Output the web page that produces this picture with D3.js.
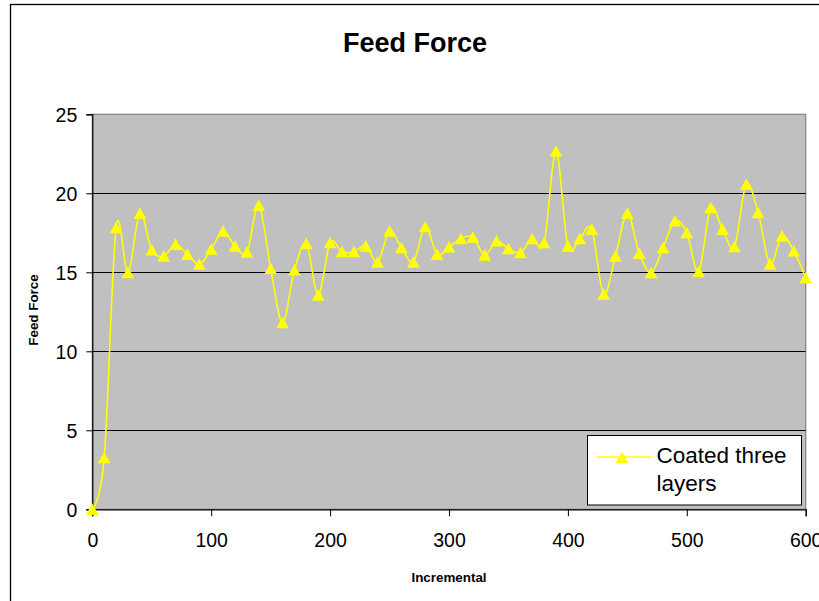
<!DOCTYPE html>
<html>
<head>
<meta charset="utf-8">
<script src="https://cdn.jsdelivr.net/npm/d3@7/dist/d3.min.js"></script>
<style>
  html, body { margin: 0; padding: 0; background: #fff; }
  svg { display: block; }
  text { font-family: "Liberation Sans", Arial, sans-serif; }
</style>
</head>
<body>
<svg id="chart" width="819" height="601"></svg>
<script>
const title = "Feed Force";
const xLabel = "Incremental";
const yLabel = "Feed Force";
const seriesName = ["Coated three", "layers"];
const xTicks = [0, 100, 200, 300, 400, 500, 600];
const yTicks = [0, 5, 10, 15, 20, 25];
const xValues = [0,10,20,30,40,50,60,70,80,90,100,110,120,130,140,150,160,170,180,190,200,
  210,220,230,240,250,260,270,280,290,300,310,320,330,340,350,360,370,380,390,400,
  410,420,430,440,450,460,470,480,490,500,510,520,530,540,550,560,570,580,590,600];
const feedForce = [0, 3.27, 17.82, 14.97, 18.73, 16.41, 16.03, 16.77, 16.14, 15.51, 16.46,
  17.61, 16.66, 16.28, 19.24, 15.25, 11.81, 15.15, 16.81, 13.56, 16.87,
  16.30, 16.30, 16.66, 15.65, 17.61, 16.56, 15.65, 17.89, 16.14, 16.60,
  17.13, 17.23, 16.09, 16.98, 16.49, 16.24, 17.13, 16.87, 22.66, 16.66,
  17.13, 17.72, 13.61, 16.03, 18.73, 16.20, 14.97, 16.56, 18.25, 17.51,
  15.04, 19.09, 17.72, 16.62, 20.57, 18.77, 15.51, 17.30, 16.35, 14.66];

(function () {
const svg = d3.select("#chart");
const pL = 92.3, pR = 805.7, pT = 114.3, pB = 509.3;

const x = d3.scaleLinear().domain([0, 600]).range([pL, pR]);
const y = d3.scaleLinear().domain([0, 25]).range([pB, pT]);

// outer chart border
svg.append("rect").attr("x", 10.5).attr("y", 4.5).attr("width", 900).attr("height", 700)
  .attr("fill", "#fff").attr("stroke", "#000").attr("stroke-width", 1.3);

// plot area
svg.append("rect").attr("x", pL).attr("y", pT).attr("width", pR - pL).attr("height", pB - pT)
  .attr("fill", "#c0c0c0").attr("stroke", "#808080").attr("stroke-width", 1.2);

// gridlines
svg.append("g").selectAll("line").data(yTicks.filter(d => d > 0 && d < 25)).join("line")
  .attr("x1", pL).attr("x2", pR)
  .attr("y1", d => Math.round(y(d)) + 0.5).attr("y2", d => Math.round(y(d)) + 0.5)
  .attr("stroke", "#000").attr("stroke-width", 1);

// axes
const yAxis = d3.axisLeft(y).tickValues(yTicks).tickSize(6).tickPadding(9).tickFormat(d3.format("d"));
const gy = svg.append("g").attr("transform", `translate(${pL},0)`).call(yAxis);
gy.select(".domain").attr("stroke", "#000").attr("stroke-width", 1.2);
gy.selectAll(".tick line").attr("stroke", "#000");
gy.selectAll(".tick text").attr("font-size", "19.5px").attr("fill", "#000")
  .attr("font-family", "Liberation Sans, Arial, sans-serif").attr("dy", "0.36em");

const xAxis = d3.axisBottom(x).tickValues(xTicks).tickSize(7).tickPadding(17).tickFormat(d3.format("d"));
const gx = svg.append("g").attr("transform", `translate(0,${pB})`).call(xAxis);
gx.select(".domain").attr("stroke", "#000").attr("stroke-width", 1.2);
gx.selectAll(".tick line").attr("stroke", "#000");
gx.selectAll(".tick text").attr("font-size", "19.5px").attr("fill", "#000")
  .attr("font-family", "Liberation Sans, Arial, sans-serif").attr("dy", "0.71em");

// line
const data = xValues.map((d, i) => [d, feedForce[i]]);
const line = d3.line().x(d => x(d[0])).y(d => y(d[1])).curve(d3.curveCatmullRom.alpha(0));
svg.append("path").datum(data).attr("d", line)
  .attr("fill", "none").attr("stroke", "#ffff00").attr("stroke-width", 1.6);

// markers
const tri = (cx, cy) => `M${cx},${cy - 6}L${cx + 6.3},${cy + 5.6}L${cx - 6.3},${cy + 5.6}Z`;
svg.append("g").selectAll("path").data(data).join("path")
  .attr("d", d => tri(x(d[0]), y(d[1])))
  .attr("fill", "#ffff00");

// title
svg.append("text").attr("x", 415).attr("y", 51.5).attr("text-anchor", "middle")
  .attr("font-size", "27px").attr("font-weight", "bold").text(title);

// axis labels
svg.append("text").attr("x", 449).attr("y", 581.5).attr("text-anchor", "middle")
  .attr("font-size", "13.4px").attr("font-weight", "bold").text(xLabel);
svg.append("text").attr("transform", "translate(37.5,310) rotate(-90)").attr("text-anchor", "middle")
  .attr("font-size", "13.4px").attr("font-weight", "bold").text(yLabel);

// legend
const lg = svg.append("g");
lg.append("rect").attr("x", 587.5).attr("y", 435.5).attr("width", 214).attr("height", 69.5)
  .attr("fill", "#fff").attr("stroke", "#000").attr("stroke-width", 1);
lg.append("line").attr("x1", 597).attr("x2", 651).attr("y1", 457).attr("y2", 457)
  .attr("stroke", "#ffff00").attr("stroke-width", 1.6);
lg.append("path").attr("d", tri(622, 457.5)).attr("fill", "#ffff00");
lg.append("text").attr("x", 656.5).attr("y", 463).attr("font-size", "22.5px").text(seriesName[0]);
lg.append("text").attr("x", 656.5).attr("y", 490.5).attr("font-size", "22.5px").text(seriesName[1]);
})();
</script>
</body>
</html>
